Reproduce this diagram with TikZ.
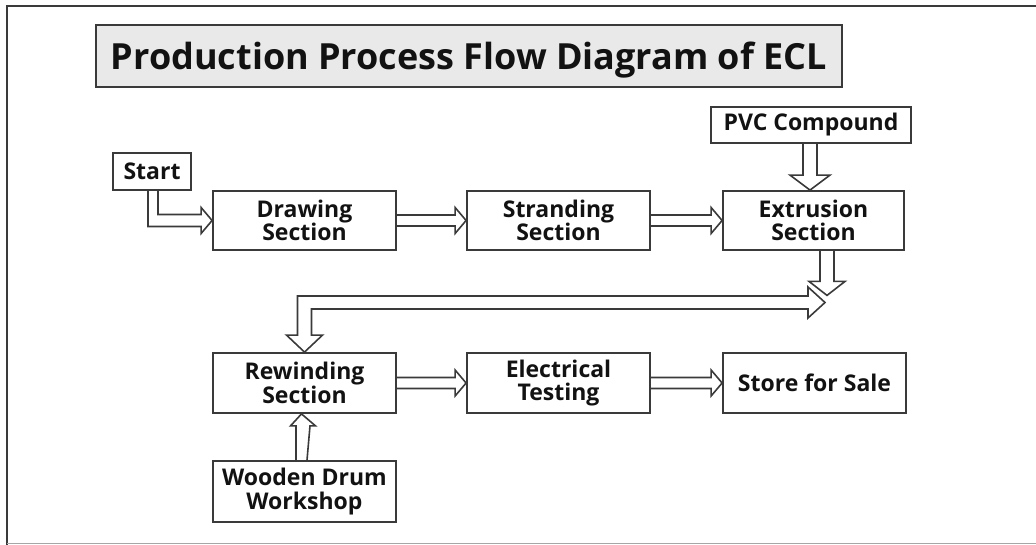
\documentclass[tikz,border=0pt]{standalone}
\usepackage{fontspec}
\setmainfont{Open Sans}
\usetikzlibrary{calc}
\definecolor{ink}{HTML}{121212}
\definecolor{edge}{HTML}{3A3A3A}
\definecolor{titlefill}{HTML}{E9E9E9}
\begin{document}
\begin{tikzpicture}[x=1pt,y=-1pt,
  box/.style={draw=edge,line width=1.8pt,fill=white,text=ink,align=center,
    inner sep=0pt,font=\bfseries\fontsize{23}{23.5}\selectfont},
  blockarrow/.style={draw=edge,line width=1.6pt,line join=miter}]
\useasboundingbox (0,0) rectangle (1036,545);
% frame of the sheet
\draw[edge,line width=2pt] (7,545) -- (7,6) -- (1036,6);
\draw[black!35,line width=1pt] (7,543) -- (1036,543);

% title
\node[draw=edge,line width=1.8pt,fill=titlefill,minimum width=746pt,minimum height=62pt,
  inner sep=0pt,text depth=0pt,text=ink,font=\bfseries\fontsize{36}{40}\selectfont] (title) at (469,56)
  {Production Process Flow Diagram of ECL};

% process boxes
\node[box,minimum width=78pt,minimum height=37pt] (start) at (152,171.5) {Start};
\node[box,minimum width=183pt,minimum height=59pt] (draw) at (304.5,220.5) {Drawing\\Section};
\node[box,minimum width=183pt,minimum height=59pt] (strand) at (558.5,220.5) {Stranding\\Section};
\node[box,minimum width=181pt,minimum height=59pt] (extr) at (813.5,220.5) {Extrusion\\Section};
\node[box,minimum width=200pt,minimum height=36pt] (pvc) at (811,125) {PVC Compound};
\node[box,minimum width=183pt,minimum height=60pt] (rewind) at (304.5,383) {Rewinding\\Section};
\node[box,minimum width=183pt,minimum height=60pt] (elec) at (558.5,383) {Electrical\\Testing};
\node[box,minimum width=183pt,minimum height=60pt] (store) at (814.5,383) {Store for Sale};
\node[box,minimum width=183pt,minimum height=61pt] (wood) at (304.5,491.5) {Wooden Drum\\Workshop};

% start -> drawing (bent hollow arrow)
\draw[blockarrow] ($(start.south)+(-4,0)$) |- ($(draw.west)+(-11,6)$) -- ++(0,7)
  -- (draw.west) -- ($(draw.west)+(-11,-13)$) -- ++(0,7) -| ($(start.south)+(6,0)$);

% straight hollow arrows to the right
\draw[blockarrow] ($(draw.east)+(0,-5.5)$) -- ($(strand.west)+(-11,-5.5)$) -- ++(0,-7.5)
  -- (strand.west) -- ($(strand.west)+(-11,13)$) -- ++(0,-7.5) -- ($(draw.east)+(0,5.5)$);
\draw[blockarrow] ($(strand.east)+(0,-5.5)$) -- ($(extr.west)+(-11,-5.5)$) -- ++(0,-7.5)
  -- (extr.west) -- ($(extr.west)+(-11,13)$) -- ++(0,-7.5) -- ($(strand.east)+(0,5.5)$);
\draw[blockarrow] ($(rewind.east)+(0,-5.5)$) -- ($(elec.west)+(-11,-5.5)$) -- ++(0,-7.5)
  -- (elec.west) -- ($(elec.west)+(-11,13)$) -- ++(0,-7.5) -- ($(rewind.east)+(0,5.5)$);
\draw[blockarrow] ($(elec.east)+(0,-5.5)$) -- ($(store.west)+(-11,-5.5)$) -- ++(0,-7.5)
  -- (store.west) -- ($(store.west)+(-11,13)$) -- ++(0,-7.5) -- ($(elec.east)+(0,5.5)$);

% pvc compound -> extrusion
\coordinate (pvcin) at ($(pvc.south |- extr.north)+(-1,0)$);
\draw[blockarrow] ($(pvc.south)+(-8,0)$) -- ($(pvcin)+(-7,-15)$) -- ++(-13,0) -- (pvcin)
  -- ($(pvcin)+(20,-15)$) -- ++(-13,0) -- ($(pvc.south)+(6,0)$);

% extrusion -> down
\coordinate (exdown) at ($(extr.south)+(13.5,44.5)$);
\draw[blockarrow] ($(extr.south)+(6.5,0)$) -- ($(exdown)+(-7,-14)$) -- ++(-11,0) -- (exdown)
  -- ($(exdown)+(18,-14)$) -- ++(-11,0) -- ($(extr.south)+(20.5,0)$);

% return loop to rewinding
\coordinate (loopR) at (825,302.5);
\draw[blockarrow] (rewind.north) -- ++(-18,-17) -- ++(11,0) |- ($(loopR)+(-17,-6.5)$)
  -- ++(0,-9) -- (loopR) -- ($(loopR)+(-17,15.5)$) -- ++(0,-9)
  -| ($(rewind.north)+(7,-17)$) -- ++(11,0) -- cycle;

% wooden drum workshop -> rewinding
\draw[blockarrow] ($(wood.north)+(-8.5,0)$) -- ($(rewind.south)+(-8.5,12)$) -- ++(-5.5,0)
  -- ($(rewind.south)+(-3,0)$) -- ($(rewind.south)+(11,12)$) -- ++(-5.5,0)
  -- ($(wood.north)+(2.5,0)$);
\end{tikzpicture}
\end{document}
